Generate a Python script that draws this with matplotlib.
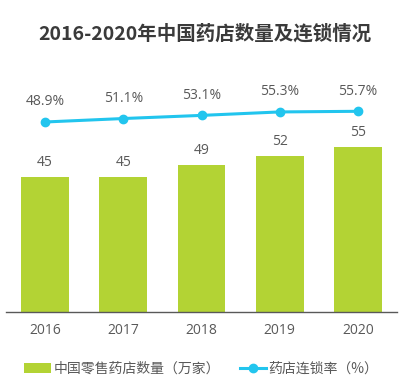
import matplotlib
matplotlib.use('Agg')
import matplotlib.pyplot as plt
import numpy as np

plt.rcParams['font.family'] = ['Noto Sans CJK SC', 'DejaVu Sans']

years = ['2016', '2017', '2018', '2019', '2020']
store_counts = [45, 45, 49, 52, 55]            # 万家
chain_rate = [48.9, 51.1, 53.1, 55.3, 55.7]    # %

bar_color = '#b3d334'
line_color = '#22c5ee'
text_color = '#595959'
num_font = ['Open Sans', 'DejaVu Sans']

fig = plt.figure(figsize=(4.03, 3.86), dpi=100)
ax = fig.add_axes([6 / 403, 74 / 386, 391 / 403, 212 / 386])
x = np.arange(len(years))

bars = ax.bar(x, store_counts, width=0.61, color=bar_color, label='中国零售药店数量（万家）')
ax.set_xlim(-0.5, 4.5)
ax.set_ylim(0, 70.7)
for xi, v in zip(x, store_counts):
    ax.text(xi, v + 2.5, f'{v}', ha='center', va='bottom', fontsize=10,
            color=text_color, family=num_font)

ax.set_xticks(x)
ax.set_xticklabels(years, fontsize=10, color=text_color, family=num_font)
ax.tick_params(axis='x', length=0, pad=8)
ax.set_yticks([])
for s in ['top', 'left', 'right']:
    ax.spines[s].set_visible(False)
ax.spines['bottom'].set_color(text_color)
ax.spines['bottom'].set_linewidth(1)

# 连锁率 - 副坐标轴
ax2 = ax.twinx()
ax2.set_ylim(-72.1, 62.9)
line, = ax2.plot(x, chain_rate, color=line_color, lw=2.2, marker='o', markersize=6,
                 label='药店连锁率（%）')
for xi, v in zip(x, chain_rate):
    ax2.text(xi, v + 8.0, f'{v}%', ha='center', va='bottom', fontsize=10,
             color=text_color, family=num_font)
ax2.set_yticks([])
for s in ['top', 'left', 'right', 'bottom']:
    ax2.spines[s].set_visible(False)

fig.text(0.508, 1 - 34 / 386, '2016-2020年中国药店数量及连锁情况', ha='center', va='center',
         fontsize=14, fontweight='bold', color='#3a3a3a')

fig.legend(handles=[bars, line], loc='center', bbox_to_anchor=(0.5, 17 / 386), ncol=2,
           frameon=False, fontsize=10, handlelength=1.9, handletextpad=0.2,
           columnspacing=1.4, labelcolor=text_color)

fig.savefig('out.png', dpi=100)
